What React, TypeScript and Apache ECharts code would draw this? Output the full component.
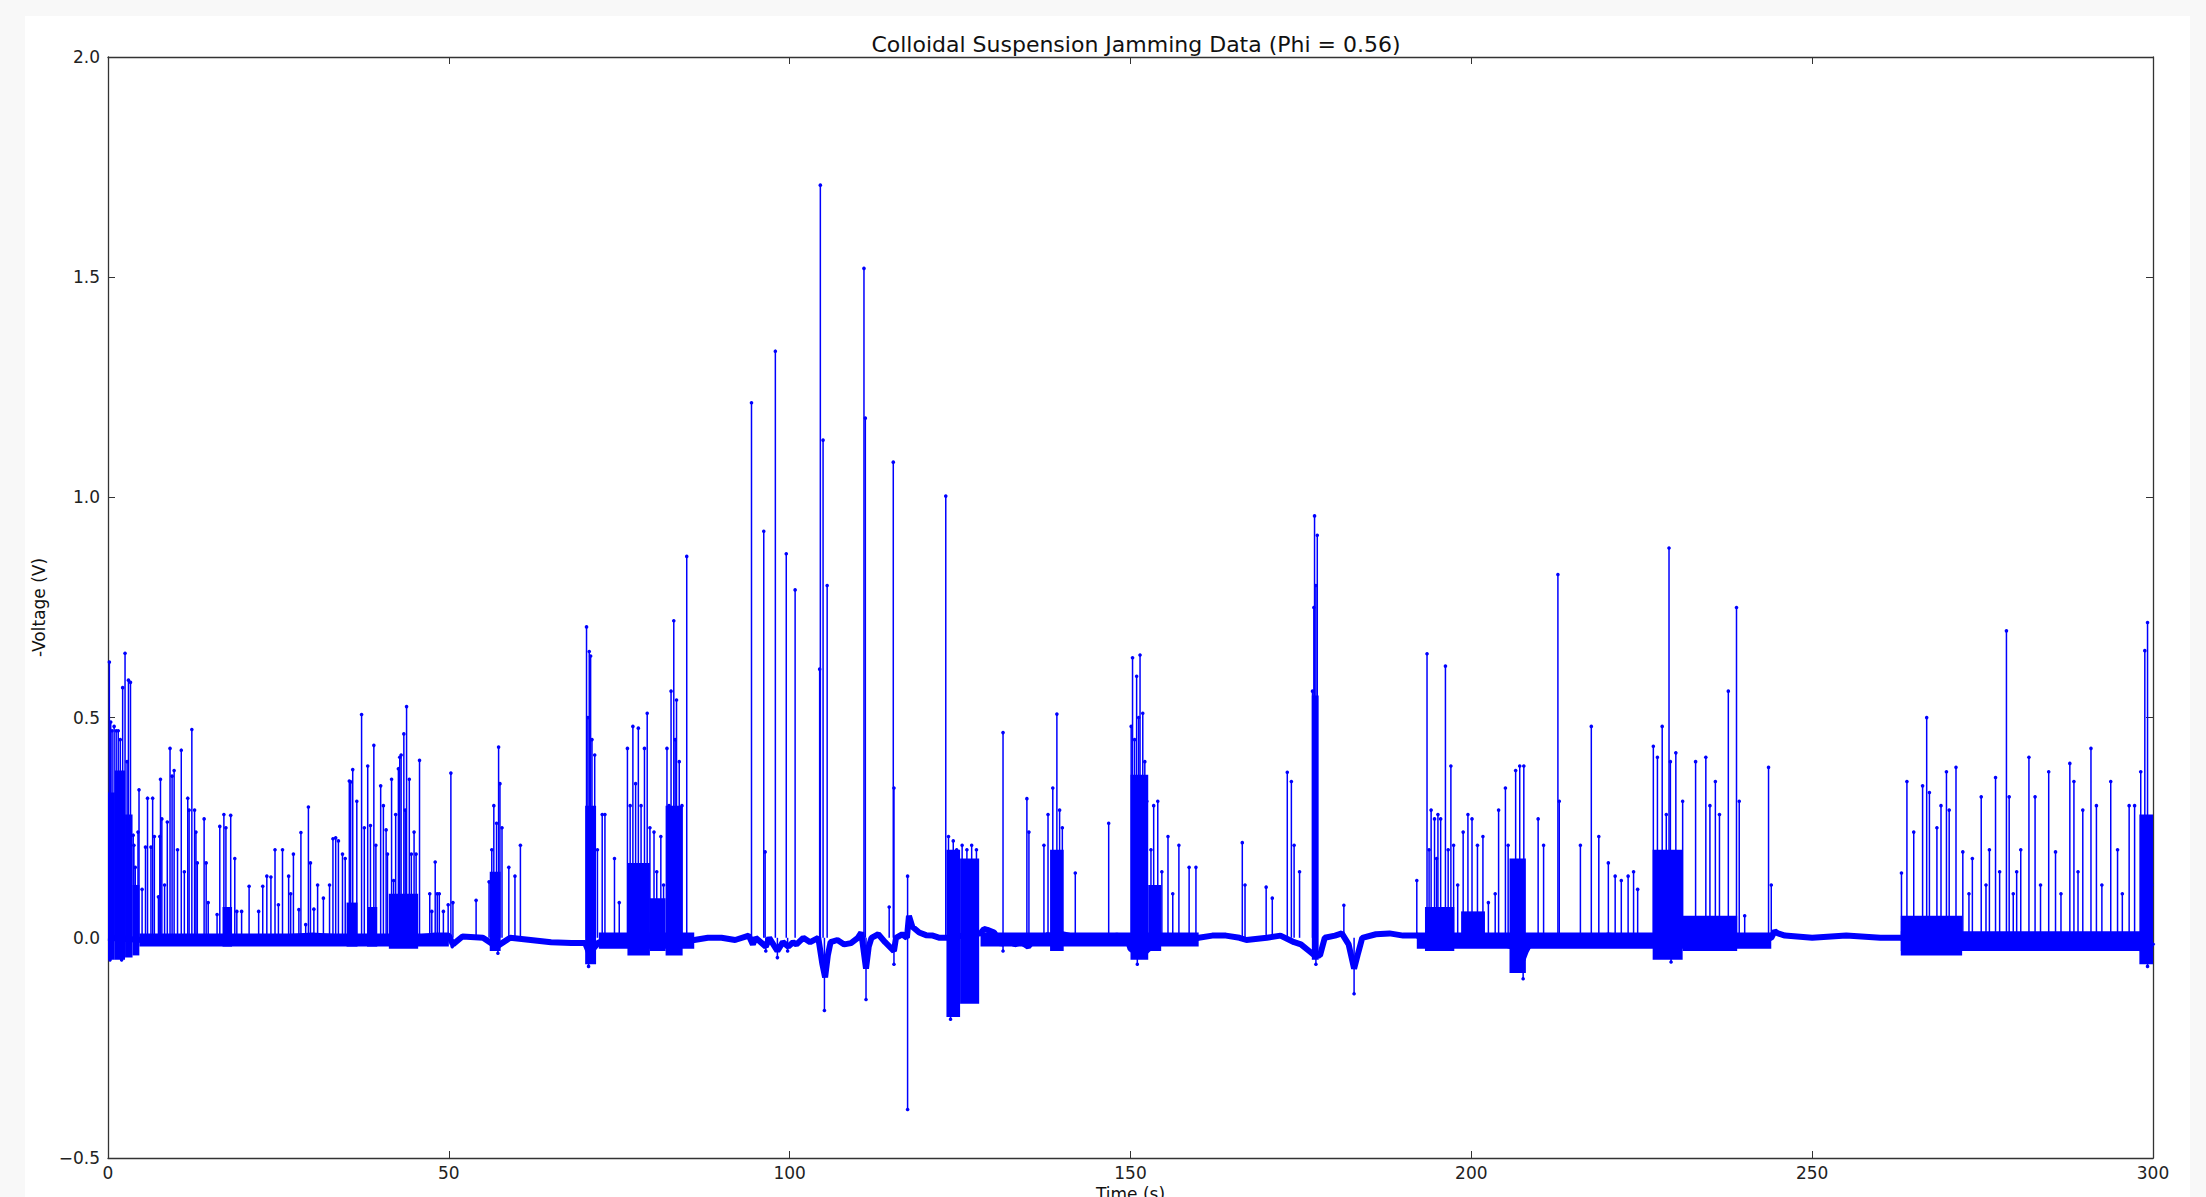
import React, { useEffect, useRef } from "react";
import * as echarts from "echarts";

const TITLE = "Colloidal Suspension Jamming Data (Phi = 0.56)";
const X_NAME = "Time (s)";
const Y_NAME = "-Voltage (V)";
const X_TICKS = [0, 50, 100, 150, 200, 250, 300];
const Y_TICKS = [-0.5, 0.0, 0.5, 1.0, 1.5, 2.0];

// slowly varying baseline of the signal [time s, volts]
const baseline: [number, number][] = [
  [0, 0], [5, -0.005], [10, -0.005], [15, 0], [20, -0.005], [25, 0], [30, 0.005], [35, 0], [40, 0],
  [45, 0], [48, 0.005], [50, 0.005], [50.6, -0.015], [52, 0.003], [55, 0], [57, -0.02], [59, 0],
  [62, -0.005], [65, -0.01], [68, -0.012], [70, -0.012], [70.6, -0.035], [72, -0.01], [75, -0.01],
  [78, -0.01], [80, -0.01], [83, -0.02], [85, -0.01], [86, -0.005], [88, 0], [90, 0], [92, -0.005],
  [94, 0.005], [94.6, -0.015], [95, 0], [96.5, -0.02], [97, 0], [98.2, -0.03], [99, -0.01],
  [99.8, -0.02], [100.5, -0.01], [101, -0.015], [102, 0], [103, -0.01], [104.2, 0], [104.8, -0.06],
  [105.2, -0.09], [105.6, -0.04], [106, -0.01], [107, -0.005], [108, -0.015], [109, -0.012],
  [110, 0], [110.5, 0.012], [111.2, -0.07], [111.6, -0.02], [112, 0], [113, 0.008], [114, -0.01],
  [115.3, -0.03], [115.6, 0], [116.5, 0.008], [117.2, 0], [117.5, 0.05], [118, 0.025], [119, 0.012],
  [120, 0.006], [121, 0.005], [122, 0], [123, 0], [128, 0.01], [128.5, 0.02], [129, 0.018],
  [130, 0.012], [131, -0.015], [132, 0], [133, -0.015], [134, -0.01], [135, -0.02], [136, 0],
  [137, -0.01], [138, 0.008], [139, -0.02], [140, 0.008], [141, 0.005], [142, -0.01], [143, 0],
  [145, 0], [147, 0], [148, 0.005], [149.5, 0], [150, -0.025], [151, -0.035], [152, -0.035],
  [153, -0.02], [154, -0.01], [155, -0.005], [157, 0], [158, -0.008], [160, 0], [162, 0.005],
  [164, 0.005], [166, 0], [167, -0.005], [170, 0], [172, 0.005], [174, -0.01], [175, -0.015],
  [176.2, -0.03], [177, -0.04], [177.8, -0.04], [178.5, 0], [180, 0.005], [181, 0.01], [182, -0.015],
  [182.8, -0.07], [183.3, -0.04], [184, 0], [186, 0.008], [188, 0.01], [190, 0.005], [192, 0.005],
  [193, 0], [195, 0], [197, -0.008], [200, 0], [203, 0], [205, -0.015], [206, -0.02], [207, -0.04],
  [207.5, -0.05], [208, -0.03], [209, 0], [212, 0], [215, 0], [218, 0], [220, 0.005], [223, 0],
  [226, 0], [227, -0.015], [228, -0.02], [229, -0.03], [230, -0.02], [232, -0.01], [235, -0.005],
  [238, 0], [240, 0], [242, -0.005], [244, 0], [244.5, 0.015], [245, 0.01], [246, 0.005], [250, 0],
  [255, 0.005], [260, 0], [263, 0], [265, -0.008], [268, -0.008], [270, -0.015], [273, -0.012],
  [276, -0.015], [279, -0.015], [282, -0.008], [285, -0.005], [288, -0.008], [291, -0.008], [294, 0],
  [297, -0.015], [299, -0.03], [300, -0.01],
];

// densely filled bursts [t start, t end, low, high]
const bursts: [number, number, number, number][] = [
  [0, 1.0, -0.05, 0.33], [1.0, 2.5, -0.05, 0.38], [2.5, 3.6, -0.045, 0.28], [3.6, 4.6, -0.04, 0.12],
  [4.6, 50, -0.02, 0.01], [72, 86, -0.025, 0.012], [128, 160, -0.02, 0.012], [192, 244, -0.025, 0.012],
  [263, 300, -0.03, 0.015],
  [16.8, 18.2, -0.02, 0.07], [35, 36.6, -0.02, 0.08], [38, 39.5, -0.02, 0.07], [41.2, 45.5, -0.025, 0.1],
  [56, 57.6, -0.03, 0.15], [70, 71.6, -0.06, 0.3], [76.2, 79.5, -0.04, 0.17], [79.5, 81.8, -0.03, 0.09],
  [81.8, 84.3, -0.04, 0.3], [123, 125, -0.18, 0.2], [125, 127.8, -0.15, 0.18], [138.2, 140.2, -0.03, 0.2],
  [150, 152.6, -0.05, 0.37], [152.6, 154.5, -0.03, 0.12], [176.6, 177.6, -0.05, 0.55],
  [193.2, 197.5, -0.03, 0.07], [198.5, 202, -0.02, 0.06], [205.6, 208, -0.08, 0.18],
  [226.6, 231, -0.05, 0.2], [231, 239, -0.03, 0.05], [263, 272, -0.04, 0.05], [298, 300, -0.06, 0.28],
];

// isolated spikes [time s, peak volts]
const spikes: [number, number][] = [
  [0.2, 0.626], [0.4, 0.49], [0.6, 0.47], [0.9, 0.48], [1.2, 0.47], [1.5, 0.47], [1.8, 0.45], [2.15, 0.568],
  [2.5, 0.646], [2.8, 0.4], [3.0, 0.585], [3.3, 0.58], [3.7, 0.233], [3.8, 0.21], [4.0, 0.16], [4.4, 0.24],
  [4.55, 0.336], [5.0, 0.11], [5.5, 0.206], [5.8, 0.317], [6.3, 0.206], [6.55, 0.317], [6.8, 0.23],
  [7.4, 0.093], [7.6, 0.23], [7.7, 0.36], [7.9, 0.27], [8.3, 0.12], [8.7, 0.263], [9.1, 0.43], [9.4, 0.367],
  [9.7, 0.38], [10.2, 0.2], [10.75, 0.426], [11.2, 0.15], [11.7, 0.317], [11.9, 0.29], [12.3, 0.473],
  [12.7, 0.29], [12.9, 0.24], [13.1, 0.17], [14.1, 0.27], [14.4, 0.17], [14.7, 0.08], [16.0, 0.053],
  [16.4, 0.253], [17.0, 0.28], [17.3, 0.25], [18.0, 0.278], [18.6, 0.18], [18.9, 0.06], [19.6, 0.06],
  [20.7, 0.117], [22.1, 0.06], [22.7, 0.117], [23.3, 0.14], [23.9, 0.138], [24.5, 0.2], [25.0, 0.075],
  [25.6, 0.2], [26.5, 0.14], [26.8, 0.1], [27.2, 0.19], [28.0, 0.064], [28.3, 0.239], [29.0, 0.03],
  [29.4, 0.297], [29.7, 0.17], [30.2, 0.065], [30.75, 0.12], [31.6, 0.09], [32.5, 0.12], [33.0, 0.225],
  [33.4, 0.227], [33.8, 0.22], [34.4, 0.19], [34.8, 0.18], [35.4, 0.356], [35.6, 0.354], [35.9, 0.382],
  [36.5, 0.31], [37.2, 0.507], [37.6, 0.25], [38.1, 0.39], [38.5, 0.255], [39.0, 0.437], [39.3, 0.21],
  [40.0, 0.345], [40.4, 0.3], [40.8, 0.245], [41.0, 0.19], [41.6, 0.36], [41.9, 0.13], [42.2, 0.28],
  [42.6, 0.384], [42.8, 0.41], [43.0, 0.415], [43.4, 0.463], [43.6, 0.29], [43.8, 0.525], [44.2, 0.36],
  [44.5, 0.19], [44.9, 0.24], [45.2, 0.19], [45.7, 0.403], [47.2, 0.1], [47.5, 0.06], [48.0, 0.172],
  [48.3, 0.1], [48.6, 0.1], [49.2, 0.06], [49.9, 0.075], [50.3, 0.374], [50.6, 0.08], [54.0, 0.085],
  [55.9, 0.127], [56.3, 0.2], [56.6, 0.3], [57.0, 0.26], [57.3, 0.433], [57.5, 0.35], [57.8, 0.25],
  [58.8, 0.16], [59.7, 0.14], [60.5, 0.21], [70.2, 0.706], [70.4, 0.5], [70.6, 0.65], [70.8, 0.64],
  [71.0, 0.45], [71.4, 0.415], [71.8, 0.2], [72.5, 0.28], [72.9, 0.28], [74.3, 0.18], [75.0, 0.08],
  [76.2, 0.43], [76.6, 0.3], [77.0, 0.48], [77.4, 0.35], [77.8, 0.476], [78.2, 0.3], [78.7, 0.43],
  [79.1, 0.51], [79.5, 0.25], [80.1, 0.24], [80.5, 0.15], [81.1, 0.23], [81.5, 0.12], [82.0, 0.43],
  [82.3, 0.3], [82.6, 0.56], [83.0, 0.72], [83.2, 0.45], [83.4, 0.54], [83.8, 0.4], [84.2, 0.3],
  [84.9, 0.866], [94.4, 1.215], [96.2, 0.923], [96.4, 0.195], [97.9, 1.332], [99.5, 0.872], [100.8, 0.79],
  [104.4, 0.61], [104.5, 1.709], [104.9, 1.13], [105.5, 0.8], [110.9, 1.52], [111.1, 1.18], [114.6, 0.07],
  [115.2, 1.08], [115.3, 0.34], [117.3, 0.14], [122.9, 1.003], [123.3, 0.23], [124.0, 0.22], [124.5, 0.2],
  [125.3, 0.21], [126.0, 0.2], [126.7, 0.21], [127.4, 0.2], [131.3, 0.466], [134.8, 0.316], [135.1, 0.24],
  [137.3, 0.21], [137.9, 0.28], [138.6, 0.34], [139.2, 0.508], [139.6, 0.29], [140.0, 0.25], [141.9, 0.147],
  [146.8, 0.26], [150.1, 0.48], [150.3, 0.636], [150.6, 0.45], [150.9, 0.594], [151.2, 0.5], [151.4, 0.642],
  [151.8, 0.51], [152.1, 0.4], [152.4, 0.31], [153.0, 0.2], [153.4, 0.3], [154.0, 0.31], [154.6, 0.15],
  [155.5, 0.23], [156.2, 0.1], [157.1, 0.21], [158.6, 0.16], [159.6, 0.16], [166.4, 0.216], [166.8, 0.12],
  [169.9, 0.115], [170.8, 0.09], [173.0, 0.376], [173.6, 0.355], [174.0, 0.21], [174.8, 0.15], [176.7, 0.56],
  [176.9, 0.75], [177.0, 0.958], [177.2, 0.8], [177.4, 0.914], [181.3, 0.074], [192.0, 0.13], [193.5, 0.645],
  [193.8, 0.2], [194.1, 0.29], [194.6, 0.27], [194.9, 0.18], [195.1, 0.28], [195.5, 0.27], [196.2, 0.617],
  [196.6, 0.2], [197.0, 0.39], [197.4, 0.21], [198.0, 0.12], [198.8, 0.24], [199.5, 0.28], [200.1, 0.27],
  [200.9, 0.21], [201.7, 0.23], [202.5, 0.08], [203.5, 0.1], [204.0, 0.29], [205.0, 0.34], [205.4, 0.21],
  [206.5, 0.38], [207.1, 0.39], [207.7, 0.39], [209.8, 0.27], [210.6, 0.21], [212.7, 0.825],
  [212.9, 0.31], [216.0, 0.21], [217.6, 0.48], [218.7, 0.23], [220.1, 0.17], [221.1, 0.14], [222.0, 0.13],
  [223.0, 0.14], [223.8, 0.15], [224.4, 0.11], [226.7, 0.435], [227.3, 0.41], [228.0, 0.48], [228.6, 0.28],
  [229.0, 0.885], [229.2, 0.4], [230.0, 0.42], [231.0, 0.31], [232.9, 0.4], [234.4, 0.41], [235.0, 0.3],
  [235.8, 0.355], [236.4, 0.28], [237.7, 0.56], [238.9, 0.75], [239.3, 0.31], [240.1, 0.05], [243.6, 0.387],
  [244.0, 0.12], [263.1, 0.147], [263.9, 0.355], [264.9, 0.24], [266.2, 0.345], [266.8, 0.5], [267.2, 0.33],
  [268.3, 0.25], [268.9, 0.3], [269.7, 0.377], [270.1, 0.29], [271.1, 0.387], [272.1, 0.195], [273.0, 0.1],
  [273.5, 0.18], [274.8, 0.32], [275.5, 0.12], [276.0, 0.2], [276.9, 0.364], [277.5, 0.15], [278.5, 0.697],
  [278.9, 0.32], [279.5, 0.1], [280.0, 0.15], [280.6, 0.2], [281.8, 0.41], [282.7, 0.32], [283.5, 0.12],
  [284.7, 0.377], [285.7, 0.195], [286.5, 0.1], [287.8, 0.396], [288.4, 0.355], [289.0, 0.15], [289.7, 0.29],
  [290.9, 0.43], [291.7, 0.3], [292.5, 0.12], [293.8, 0.355], [294.8, 0.2], [295.5, 0.1], [296.5, 0.3],
  [297.3, 0.3], [298.2, 0.377], [298.8, 0.652], [299.2, 0.716], [299.4, 0.2], [299.8, 0.12],
];

// negative excursions [time s, minimum volts]
const dips: [number, number][] = [
  [0.3, -0.05], [2.0, -0.05], [50.5, -0.02], [57.2, -0.035], [70.5, -0.065], [96.5, -0.03], [98.2, -0.045],
  [99.7, -0.03], [105.1, -0.165], [111.2, -0.14], [115.3, -0.06], [117.3, -0.39], [123.6, -0.185],
  [131.3, -0.03], [151.0, -0.06], [177.2, -0.06], [182.8, -0.127], [207.6, -0.093], [229.3, -0.055],
  [299.2, -0.065],
];

const BLUE = "#0000ff";
const FONT = "DejaVu Sans";

export default function App() {
  const ref = useRef<HTMLDivElement>(null);
  useEffect(() => {
    document.body.style.margin = "0";
    const chart = echarts.init(ref.current!, null, { renderer: "svg" });
    const fmt = (v: number) => (v < 0 ? "\u2212" + Math.abs(v).toFixed(1) : v.toFixed(1));
    const axisLine = { show: true, onZero: false, lineStyle: { color: "#333", width: 1.3 } };
    const tick = { show: true, inside: true, length: 7, lineStyle: { color: "#333", width: 1 } };
    const spikeItem = (params: any, api: any) => {
      const p0 = api.coord([api.value(0), 0]);
      const p1 = api.coord([api.value(0), api.value(1)]);
      return {
        type: "group",
        children: [
          { type: "line", shape: { x1: p0[0], y1: p0[1], x2: p1[0], y2: p1[1] }, style: { stroke: BLUE, lineWidth: 1.5 } },
          { type: "circle", shape: { cx: p1[0], cy: p1[1], r: 1.8 }, style: { fill: BLUE } },
        ],
      };
    };
    chart.setOption({
      animation: false,
      backgroundColor: "#f8f8f8",
      graphic: [{ type: "rect", z: -10, shape: { x: 25, y: 16, width: 2165, height: 1190 }, style: { fill: "#ffffff" } }],
      title: {
        text: TITLE, left: 1131, top: 28, textAlign: "center",
        textStyle: { fontFamily: FONT, fontSize: 22, fontWeight: "normal", color: "#111" },
      },
      grid: { left: 108, top: 57, width: 2045, height: 1101, containLabel: false, outerBoundsMode: "none" },
      xAxis: [
        {
          type: "value", min: X_TICKS[0], max: X_TICKS[X_TICKS.length - 1], interval: 50,
          name: X_NAME, nameLocation: "middle", nameGap: 24,
          nameTextStyle: { fontFamily: FONT, fontSize: 17, color: "#111" },
          axisLine, axisTick: tick, splitLine: { show: false },
          axisLabel: { fontFamily: FONT, fontSize: 17, color: "#222", margin: 6 },
        },
        {
          type: "value", position: "top", min: 0, max: 300, interval: 50,
          axisLine, axisTick: tick, splitLine: { show: false }, axisLabel: { show: false },
        },
      ],
      yAxis: [
        {
          type: "value", min: Y_TICKS[0], max: Y_TICKS[Y_TICKS.length - 1], interval: 0.5,
          name: Y_NAME, nameLocation: "middle", nameGap: 54, nameRotate: 90,
          nameTextStyle: { fontFamily: FONT, fontSize: 17, color: "#111" },
          axisLine, axisTick: tick, splitLine: { show: false },
          axisLabel: { fontFamily: FONT, fontSize: 17, color: "#222", margin: 8, formatter: fmt },
        },
        {
          type: "value", position: "right", min: -0.5, max: 2, interval: 0.5,
          axisLine, axisTick: tick, splitLine: { show: false }, axisLabel: { show: false },
        },
      ],
      series: [
        {
          type: "custom", xAxisIndex: 0, yAxisIndex: 0, data: bursts,
          encode: { x: [0, 1], y: [2, 3] },
          renderItem: (params: any, api: any) => {
            const a = api.coord([api.value(0), api.value(3)]);
            const b = api.coord([api.value(1), api.value(2)]);
            return { type: "rect", shape: { x: a[0], y: a[1], width: b[0] - a[0], height: b[1] - a[1] }, style: { fill: BLUE } };
          },
        },
        {
          type: "line", xAxisIndex: 0, yAxisIndex: 0, data: baseline, showSymbol: false,
          lineStyle: { color: BLUE, width: 6 }, silent: true,
        },
        { type: "custom", xAxisIndex: 0, yAxisIndex: 0, data: spikes, encode: { x: 0, y: 1 }, renderItem: spikeItem },
        { type: "custom", xAxisIndex: 0, yAxisIndex: 0, data: dips, encode: { x: 0, y: 1 }, renderItem: spikeItem },
      ],
    });
    return () => chart.dispose();
  }, []);
  return <div ref={ref} style={{ position: "fixed", left: 0, top: 0, width: 2206, height: 1197, overflow: "hidden" }} />;
}
